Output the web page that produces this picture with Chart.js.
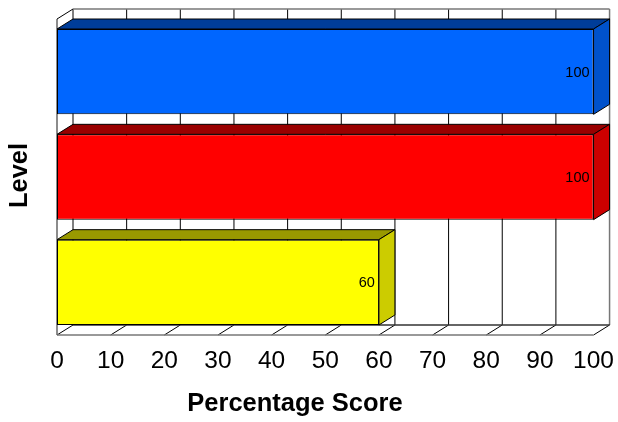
<!DOCTYPE html>
<html>
<head>
<meta charset="utf-8">
<style>
  html, body { margin: 0; padding: 0; background: #fff; }
  canvas { display: block; }
</style>
<script src="https://cdn.jsdelivr.net/npm/chart.js@4"></script>
</head>
<body>
<canvas id="levelChart" width="618" height="422"></canvas>
<script>
const categories = ["Level 1", "Level 2", "Level 3"];
const scores = [100, 100, 60];
const xTicks = [0, 10, 20, 30, 40, 50, 60, 70, 80, 90, 100];
const xTitle = "Percentage Score";
const yTitle = "Level";
const frontColors = ["#0066ff", "#ff0000", "#ffff00"];
const topColors = ["#003d99", "#990000", "#999900"];
const sideColors = ["#0052cc", "#cc0000", "#cccc00"];

// how far the back wall sits behind the front plane
const depthX = 16;
const depthY = 10;

function line(ctx, x1, y1, x2, y2, color, width) {
    ctx.beginPath();
    ctx.moveTo(x1, y1);
    ctx.lineTo(x2, y2);
    ctx.strokeStyle = color;
    ctx.lineWidth = width;
    ctx.stroke();
}

function face(ctx, points, color) {
    ctx.beginPath();
    ctx.moveTo(points[0][0], points[0][1]);
    points.slice(1).forEach(p => ctx.lineTo(p[0], p[1]));
    ctx.closePath();
    ctx.fillStyle = color;
    ctx.fill();
    ctx.strokeStyle = "#000";
    ctx.lineWidth = 1;
    ctx.stroke();
}

// Walls, floor and the 3D faces of the bars go under the library's own bars
const boxPlugin = {
    id: "box3d",
    beforeDatasetsDraw(chart) {
        const ctx = chart.ctx;
        const a = chart.chartArea;
        const xScale = chart.scales.x;
        const left = a.left, right = a.right, top = a.top, bottom = a.bottom;
        ctx.save();

        xTicks.forEach(v => {
            const x = xScale.getPixelForValue(v);
            const edge = v === 100 ? "#777" : "#000";
            line(ctx, x + depthX, top - depthY, x + depthX, bottom - depthY, edge, v === 100 ? 1.5 : 1);
            line(ctx, x, bottom, x + depthX, bottom - depthY, "#000", 1);
        });

        line(ctx, left + depthX, top - depthY, right + depthX, top - depthY, "#777", 1.5);
        line(ctx, left + depthX, bottom - depthY, right + depthX, bottom - depthY, "#333", 1.5);
        line(ctx, left, bottom, right, bottom, "#777", 1.5);
        line(ctx, left, top, left, bottom, "#666", 1.5);
        line(ctx, left, top, left + depthX, top - depthY, "#000", 1);

        chart.getDatasetMeta(0).data.forEach((bar, i) => {
            const yTop = bar.y - bar.height / 2;
            const yBottom = bar.y + bar.height / 2;
            face(ctx, [[bar.base, yTop], [bar.base + depthX, yTop - depthY],
                [bar.x + depthX, yTop - depthY], [bar.x, yTop]], topColors[i]);
            face(ctx, [[bar.x, yTop], [bar.x + depthX, yTop - depthY],
                [bar.x + depthX, yBottom - depthY], [bar.x, yBottom]], sideColors[i]);
        });
        ctx.restore();
    },
    afterDatasetsDraw(chart) {
        const ctx = chart.ctx;
        ctx.save();
        ctx.font = "14.5px 'Liberation Sans', Arial, sans-serif";
        ctx.fillStyle = "#000";
        ctx.textAlign = "right";
        ctx.textBaseline = "middle";
        chart.getDatasetMeta(0).data.forEach((bar, i) => {
            ctx.fillText(String(scores[i]), bar.x - 4, bar.y + 1);
        });

        // axis titles sit off the centre of the plot, so the library can't place them
        ctx.font = "bold 25.5px 'Liberation Sans', Arial, sans-serif";
        ctx.textAlign = "center";
        ctx.fillText(xTitle, 295, 404);
        ctx.translate(20, 175.5);
        ctx.rotate(-Math.PI / 2);
        ctx.fillText(yTitle, 0, 0);
        ctx.restore();
    }
};

new Chart(document.getElementById("levelChart"), {
    type: "bar",
    plugins: [boxPlugin],
    data: {
        labels: categories,
        datasets: [{
            data: scores,
            backgroundColor: frontColors,
            borderColor: "#000",
            borderWidth: 1,
            borderSkipped: false,
            categoryPercentage: 0.81,
            barPercentage: 1
        }]
    },
    options: {
        indexAxis: "y",
        responsive: false,
        animation: false,
        layout: { padding: { top: 19, right: 24, left: 0, bottom: 0 } },
        plugins: { legend: { display: false }, tooltip: { enabled: false } },
        scales: {
            x: {
                min: 0,
                max: 100,
                grid: { display: false },
                border: { display: false },
                afterBuildTicks: scale => { scale.ticks = xTicks.map(value => ({ value })); },
                afterFit: scale => { scale.height = 87; },
                ticks: {
                    color: "#000",
                    padding: 4,
                    maxRotation: 0,
                    font: { family: "'Liberation Sans', Arial, sans-serif", size: 24.5 }
                }
            },
            y: {
                grid: { display: false },
                border: { display: false },
                afterFit: scale => { scale.width = 57; },
                ticks: { display: false }
            }
        }
    }
});
</script>
</body>
</html>
